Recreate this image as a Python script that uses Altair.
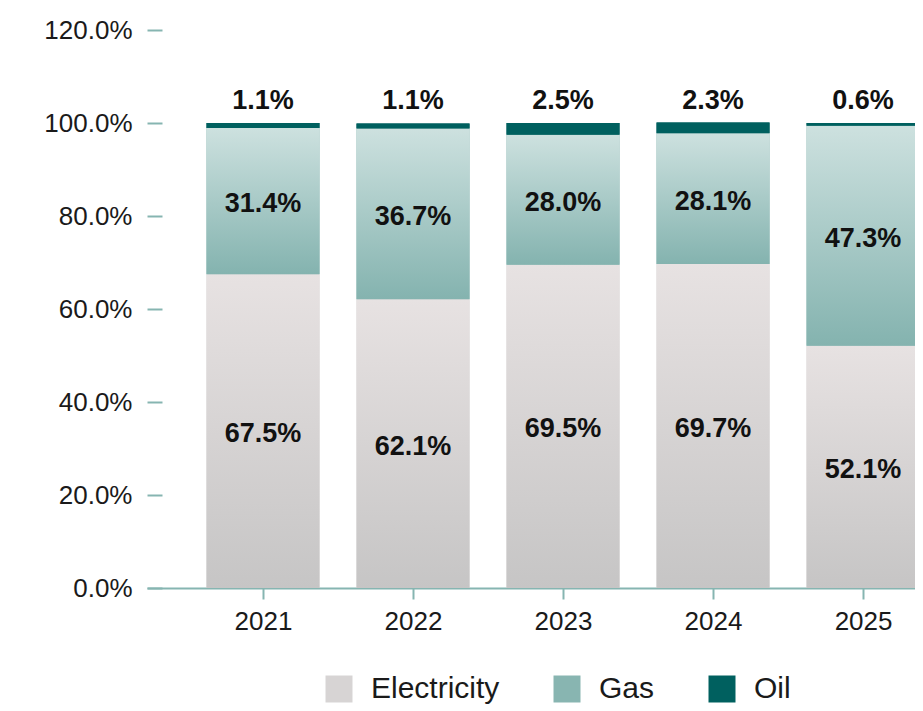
import altair as alt
import pandas as pd

years = [2021, 2022, 2023, 2024, 2025]
electricity = [67.5, 62.1, 69.5, 69.7, 52.1]
gas = [31.4, 36.7, 28.0, 28.1, 47.3]
oil = [1.1, 1.1, 2.5, 2.3, 0.6]
types = ["Electricity", "Gas", "Oil"]
y_ticks = [0, 20, 40, 60, 80, 100, 120]

rows = []
for i, yr in enumerate(years):
    for k, (t, vals) in enumerate(zip(types, [electricity, gas, oil])):
        rows.append({"year": yr, "type": t, "value": vals[i], "ord": k})
df = pd.DataFrame(rows)

FONT = "Liberation Sans"
TEAL_LINE = "#86b5b1"

elec_grad = {
    "gradient": "linear", "x1": 0, "x2": 0, "y1": 0, "y2": 1,
    "stops": [{"color": "#e7e2e2", "offset": 0}, {"color": "#c6c5c5", "offset": 1}],
}
gas_grad = {
    "gradient": "linear", "x1": 0, "x2": 0, "y1": 0, "y2": 1,
    "stops": [{"color": "#cde1df", "offset": 0}, {"color": "#84b3af", "offset": 1}],
}

base = alt.Chart(df).transform_stack(
    stack="value", as_=["y0", "y1"], groupby=["year"], sort=[alt.SortField("ord", order="ascending")]
).transform_calculate(
    mid="(datum.y0 + datum.y1) / 2",
    label="format(datum.value, '.1f') + '%'",
)

xscale = alt.Scale(domain=[2020.260, 2025.313], nice=False, zero=False)
yscale = alt.Scale(domain=[0, 120], nice=False)

x_enc = alt.X(
    "year:Q",
    scale=xscale,
    axis=alt.Axis(
        values=years, format="d", title=None, grid=False,
        domainColor=TEAL_LINE, domainWidth=2, tickColor=TEAL_LINE, tickWidth=2, tickSize=11,
        labelFont=FONT, labelFontSize=26, labelColor="#1a1a1a", labelPadding=9,
    ),
)

legend_bars = base.mark_bar(size=113).encode(
    x=x_enc,
    y=alt.Y(
        "y1:Q", scale=yscale,
        axis=alt.Axis(
            values=y_ticks, title=None, grid=False, domain=False,
            labelExpr="format(datum.value, '.1f') + '%'",
            tickColor=TEAL_LINE, tickWidth=2, tickSize=15, offset=-15,
            labelFont=FONT, labelFontSize=26, labelColor="#1a1a1a", labelPadding=15,
        ),
    ),
    y2="y0:Q",
    color=alt.Color(
        "type:N",
        scale=alt.Scale(domain=types, range=["#d7d4d4", "#88b5b1", "#00605f"]),
        legend=alt.Legend(
            title=None, orient="none", direction="horizontal", legendX=177, legendY=644,
            symbolType="square", symbolSize=729, symbolStrokeWidth=0, symbolOpacity=1,
            labelFont=FONT, labelFontSize=30, labelColor="#1a1a1a", labelOffset=17,
            columnPadding=52, columns=3,
        ),
    ),
)

overlay = base.mark_bar(size=113).encode(
    x=alt.X("year:Q", scale=xscale),
    y=alt.Y("y1:Q", scale=yscale),
    y2="y0:Q",
    fill={
        "condition": [
            {"test": "datum.type == 'Electricity'", "value": elec_grad},
            {"test": "datum.type == 'Gas'", "value": gas_grad},
        ],
        "value": "#00605f",
    },
)

inner_text = base.transform_filter("datum.type != 'Oil'").mark_text(
    font=FONT, fontSize=27, fontWeight="bold", color="#111111", baseline="middle", dy=3
).encode(
    x=alt.X("year:Q", scale=xscale),
    y=alt.Y("mid:Q", scale=yscale),
    text="label:N",
)

top_text = base.transform_filter("datum.type == 'Oil'").mark_text(
    font=FONT, fontSize=27, fontWeight="bold", color="#111111", baseline="bottom", dy=-8
).encode(
    x=alt.X("year:Q", scale=xscale),
    y=alt.Y("y1:Q", scale=yscale),
    text="label:N",
)

chart = alt.layer(legend_bars, overlay, inner_text, top_text).properties(
    width=768, height=558,
    autosize=alt.AutoSizeParams(type="none"),
    padding={"left": 139, "top": 22, "right": 0, "bottom": 116},
).configure_view(stroke=None).configure_axis(labelFlush=False)

chart.save("out.html", embed_options={"renderer": "svg", "actions": False})
